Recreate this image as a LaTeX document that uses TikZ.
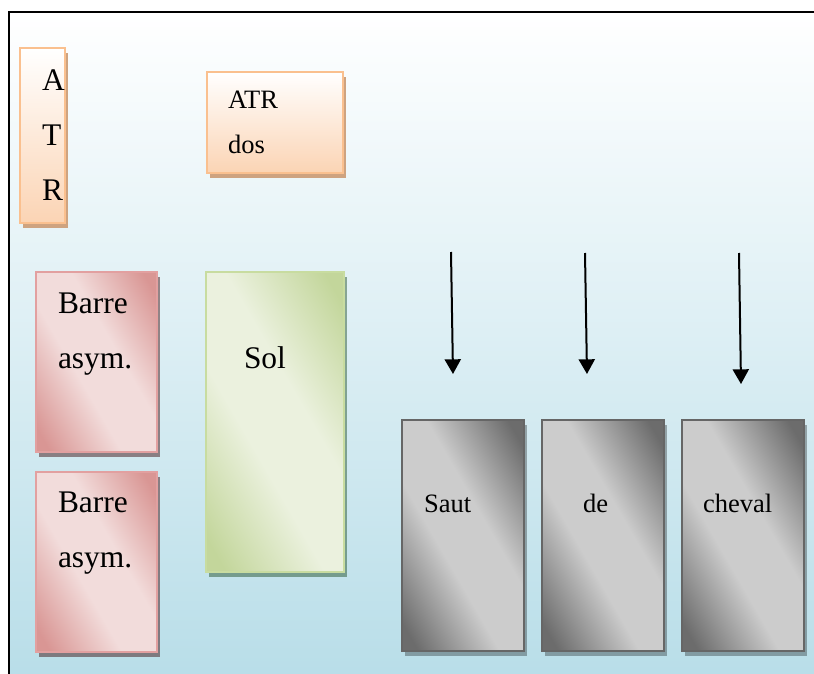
\documentclass[tikz,border=0pt]{standalone}
\usepackage{fontspec}
\setmainfont{Liberation Serif}
\usetikzlibrary{positioning, arrows.meta, shadows}
\definecolor{BgBlue}{RGB}{183,221,232}
\definecolor{AtrBorder}{RGB}{250,192,143}
\definecolor{AtrFill}{RGB}{251,212,180}
\definecolor{AtrShadow}{RGB}{206,163,128}
\definecolor{BarreDark}{RGB}{217,150,148}
\definecolor{BarreLight}{RGB}{242,220,219}
\definecolor{BarreBorder}{RGB}{226,160,160}
\definecolor{SolDark}{RGB}{195,214,155}
\definecolor{SolLight}{RGB}{235,241,222}
\definecolor{SolBorder}{RGB}{200,220,160}
\definecolor{SautDark}{RGB}{108,108,108}
\definecolor{SautLight}{RGB}{204,204,204}
\definecolor{SautBorder}{RGB}{102,102,102}
\pgfdeclarehorizontalshading{barrediag}{100bp}{color(0bp)=(BarreDark); color(20bp)=(BarreDark); color(42bp)=(BarreLight); color(58bp)=(BarreLight); color(80bp)=(BarreDark); color(100bp)=(BarreDark)}
\pgfdeclarehorizontalshading{soldiag}{100bp}{color(0bp)=(SolDark); color(20bp)=(SolDark); color(42bp)=(SolLight); color(58bp)=(SolLight); color(80bp)=(SolDark); color(100bp)=(SolDark)}
\pgfdeclarehorizontalshading{sautdiag}{100bp}{color(0bp)=(SautDark); color(20bp)=(SautDark); color(42bp)=(SautLight); color(58bp)=(SautLight); color(80bp)=(SautDark); color(100bp)=(SautDark)}

\begin{document}
\begin{tikzpicture}[
  x=0.75pt, y=-0.75pt, every node/.style={inner sep=0pt, outer sep=0pt},
  bigtxt/.style={font=\fontsize{23.6}{41.25}\selectfont, align=left, anchor=base west},
  smalltxt/.style={font=\fontsize{19.9}{33.75}\selectfont, align=left, anchor=base west},
  box/.style={rectangle, anchor=north west, line width=1.5pt},
  atrbox/.style={box, draw=AtrBorder, top color=white, bottom color=AtrFill,
    drop shadow={shadow xshift=2.25pt, shadow yshift=-3.75pt, fill=AtrShadow, opacity=1}},
  barrebox/.style={box, draw=BarreBorder, shading=barrediag, shading angle=30,
    minimum width=90.75pt, minimum height=135pt,
    drop shadow={shadow xshift=2.25pt, shadow yshift=-3.75pt, fill=black!80!red, opacity=0.45}},
  solbox/.style={box, draw=SolBorder, shading=soldiag, shading angle=30,
    drop shadow={shadow xshift=2.25pt, shadow yshift=-3.75pt, fill=black!80!green, opacity=0.4}},
  sautbox/.style={box, draw=SautBorder, shading=sautdiag, shading angle=30,
    minimum width=91.5pt, minimum height=173.25pt,
    drop shadow={shadow xshift=2.25pt, shadow yshift=-3.75pt, fill=black, opacity=0.3}},
  arrow/.style={-{Triangle[width=12pt, length=11pt]}, line width=1.5pt}
]
\useasboundingbox (0,0) rectangle (814,674);
\clip (0,0) rectangle (814,674);

% background and frame
\fill[top color=white, bottom color=BgBlue] (9,12) rectangle (830,690);
\draw[line width=2pt] (9,12) rectangle (830,690);

% ATR boxes (base anchor sits on the last line)
\node[atrbox, minimum width=33.75pt, minimum height=131.25pt] (atrv) at (20,48) {};
\node[bigtxt] (atrvtxt) at ([shift={(22,152)}]atrv.north west) {A\\T\\R};
\node[atrbox, minimum width=102pt, minimum height=75.75pt] (atrdos) at (207,72) {};
\node[smalltxt] (atrdostxt) at ([shift={(21,81)}]atrdos.north west) {ATR\\dos};

% Barres asymetriques
\node[barrebox] (barre1) at (36,272) {};
\node[bigtxt] (barre1txt) at ([shift={(22,96)}]barre1.north west) {Barre\\asym.};
\node[barrebox, below=15pt of barre1] (barre2) {};
\node[bigtxt] (barre2txt) at ([shift={(22,95)}]barre2.north west) {Barre\\asym.};

% Sol
\node[solbox, minimum width=103.5pt, minimum height=225pt] (sol) at (206,272) {};
\node[bigtxt] (soltxt) at ([shift={(38,96)}]sol.north west) {Sol};

% Saut de cheval
\node[sautbox] (saut) at (402,420) {};
\node[sautbox, right=13.5pt of saut] (de) {};
\node[sautbox, right=13.5pt of de] (cheval) {};
\node[smalltxt] (sauttxt) at ([shift={(22,92)}]saut.north west) {Saut};
\node[smalltxt] (detxt) at ([shift={(41,92)}]de.north west) {de};
\node[smalltxt] (chevaltxt) at ([shift={(21,92)}]cheval.north west) {cheval};

% arrows
\coordinate (a1s) at (451,252);
\coordinate (a1e) at (453,374);
\coordinate (a2s) at (585,253);
\coordinate (a2e) at (587,374);
\coordinate (a3s) at (739,253);
\coordinate (a3e) at (741,384);
\draw[arrow] (a1s) -- (a1e);
\draw[arrow] (a2s) -- (a2e);
\draw[arrow] (a3s) -- (a3e);

\end{tikzpicture}
\end{document}
